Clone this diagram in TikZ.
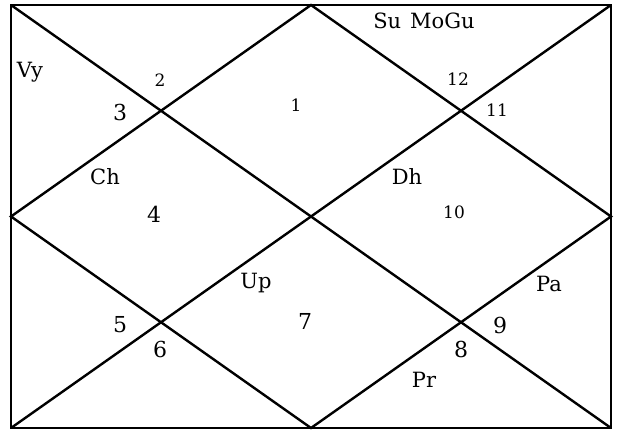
\documentclass[tikz,border=0pt]{standalone}
\usepackage{fontspec}
\setmainfont{DejaVu Serif}
\begin{document}
\begin{tikzpicture}[x=1pt, y=-1pt, line width=2.4pt,
    every node/.style={font=\fontsize{21}{25}\selectfont, inner sep=0pt},
    bignum/.style={font=\fontsize{22}{26}\selectfont},
    smallnum/.style={font=\fontsize{17}{20}\selectfont}]
    \useasboundingbox (0,0) rectangle (620,430);
    % 外框四角与各边中点
    \coordinate (tl) at (11,5);
    \coordinate (tr) at (611,5);
    \coordinate (br) at (611,428);
    \coordinate (bl) at (11,428);
    \coordinate (mt) at (311,5);
    \coordinate (mr) at (611,216.5);
    \coordinate (mb) at (311,428);
    \coordinate (ml) at (11,216.5);

    % 外框、对角线、菱形
    \draw (tl) -- (tr) -- (br) -- (bl) -- cycle;
    \draw (tl) -- (br);
    \draw (tr) -- (bl);
    \draw (mt) -- (mr) -- (mb) -- (ml) -- cycle;

    % 宫位编号
    \node[smallnum] (h1) at (296,105) {1};
    \node[smallnum] (h2) at (160,80) {2};
    \node[bignum] (h3) at (120,112) {3};
    \node[bignum] (h4) at (154,214) {4};
    \node[bignum] (h5) at (120,325) {5};
    \node[bignum] (h6) at (160,349) {6};
    \node[bignum] (h7) at (305,321) {7};
    \node[bignum] (h8) at (461,349) {8};
    \node[bignum] (h9) at (500,325) {9};
    \node[smallnum] (h10) at (454,212) {10};
    \node[smallnum] (h11) at (497,110) {11};
    \node[smallnum] (h12) at (458,79) {12};

    % 行星
    \node (vy) at (30,72) {Vy};
    \node (sumogu) at (424,21) {Su\hspace{9pt}MoGu};
    \node (ch) at (105,177) {Ch};
    \node (dh) at (407,177) {Dh};
    \node (up) at (256,283) {Up};
    \node (pa) at (549,284) {Pa};
    \node (pr) at (424,380) {Pr};
\end{tikzpicture}
\end{document}
